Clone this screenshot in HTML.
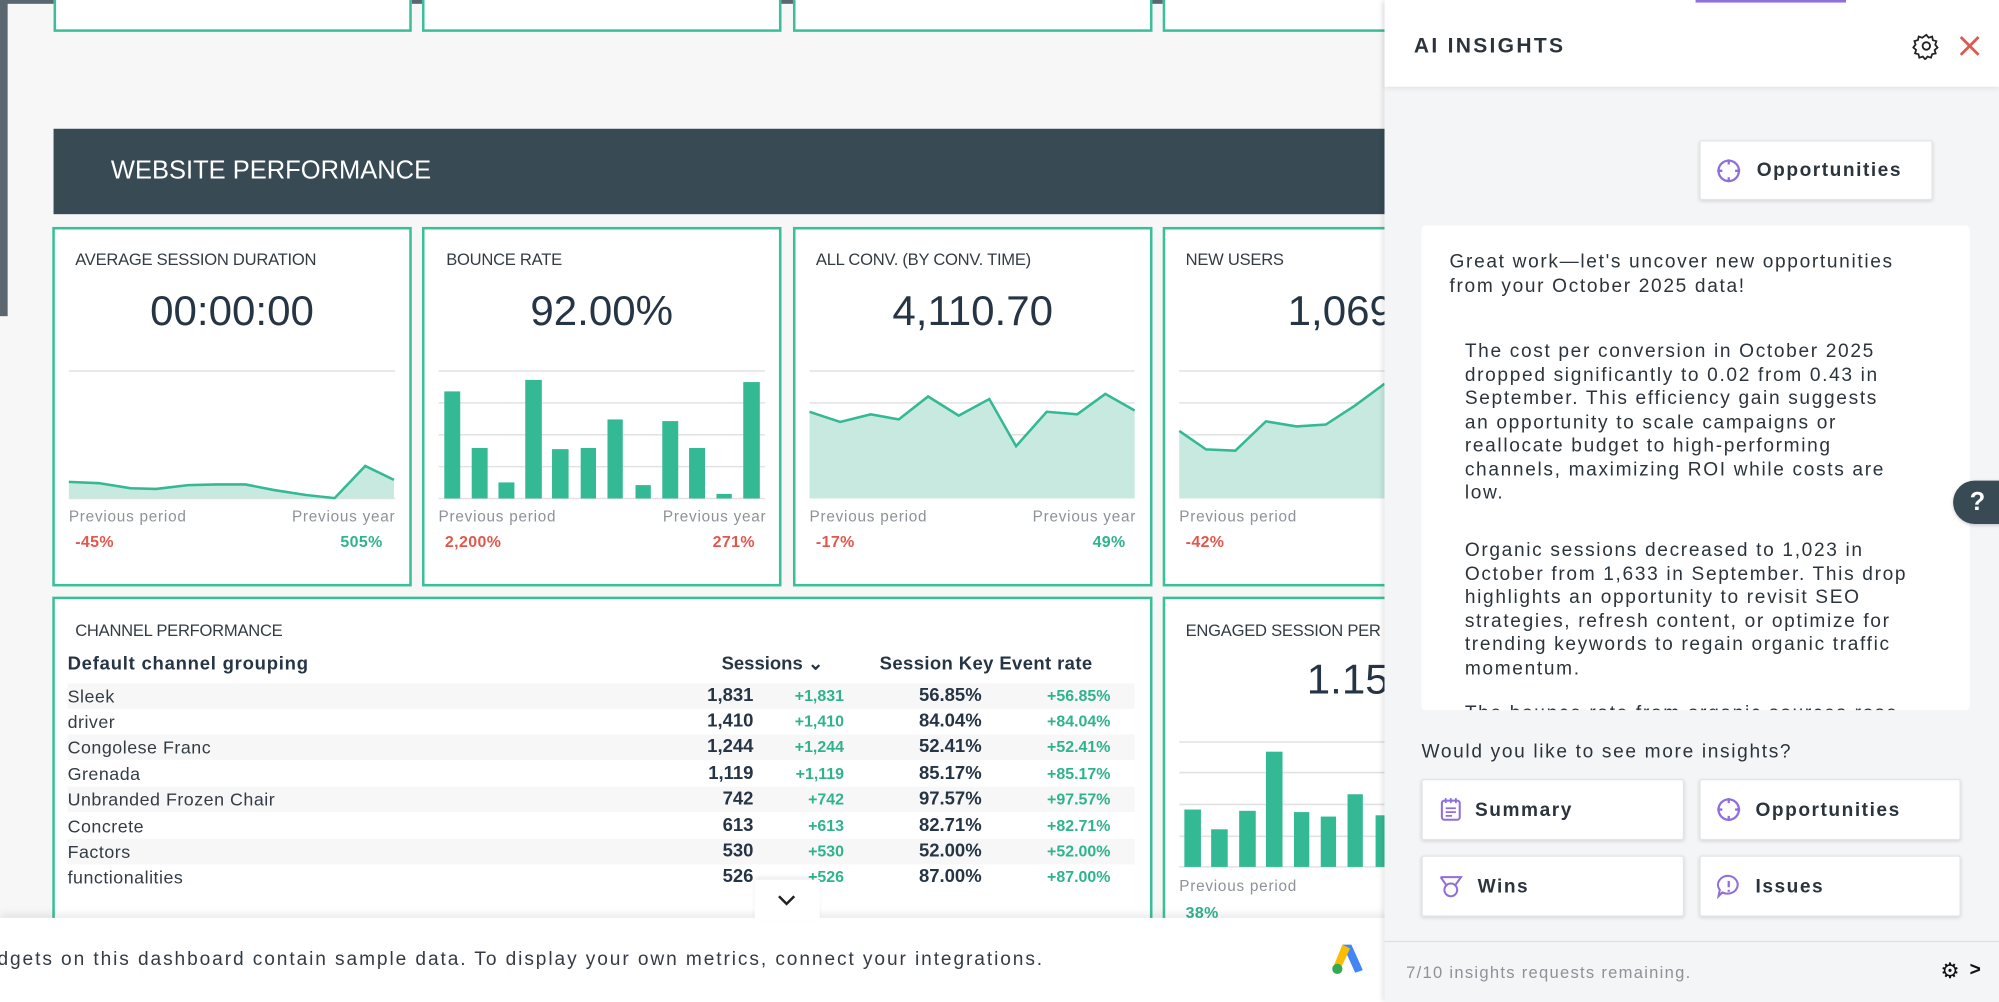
<!DOCTYPE html>
<html><head><meta charset="utf-8">
<style>
*{margin:0;padding:0;box-sizing:border-box}
html,body{width:1999px;height:1002px;overflow:hidden;background:#f7f7f7}
#w{position:absolute;left:0;top:0;width:1568px;height:786px;transform:scale(1.27487);transform-origin:0 0;font-family:"Liberation Sans",sans-serif;background:#f7f7f7;overflow:hidden}
.a{position:absolute;white-space:nowrap}
.card{position:absolute;background:#fff;border:2px solid #3bbf9a}
.t{font-size:13px;color:#333c45;letter-spacing:-0.2px}
.v{font-size:33px;color:#263545;text-align:center}
.pp{font-size:12px;color:#8d9299;letter-spacing:0.6px}
.r{font-size:12.5px;font-weight:bold;color:#e2574c;letter-spacing:0.3px}
.g{font-size:12.5px;font-weight:bold;color:#2fb38f;letter-spacing:0.3px}
.row{position:absolute;left:53px;width:837px;height:20px;font-size:14px;color:#333c45;line-height:20px;letter-spacing:0.4px}
.row span{position:absolute;top:0}
.n{font-weight:bold;color:#263545;font-size:14.5px;letter-spacing:0}
.d{color:#2fb38f;font-size:12.5px;font-weight:bold;letter-spacing:0}
.ai{font-size:15px;color:#2b343c;letter-spacing:1.3px;line-height:18.5px}
.btn{position:absolute;background:#fff;border:1px solid #e3e5e8;box-shadow:0 1px 3px rgba(0,0,0,.12);border-radius:2px}
.bt{position:absolute;font-size:15px;font-weight:bold;color:#2b343c;letter-spacing:1.2px}
</style></head><body><div id="w">
<div class="a" style="left:0;top:0;width:1568px;height:3px;background:#5b6770"></div>
<div class="a" style="left:0;top:0;width:6px;height:248px;background:#5b6770"></div>
<div class="card" style="left:42px;top:-10px;width:281px;height:35px"></div>
<div class="card" style="left:331px;top:-10px;width:282px;height:35px"></div>
<div class="card" style="left:622px;top:-10px;width:282px;height:35px"></div>
<div class="card" style="left:912px;top:-10px;width:200px;height:35px"></div>
<div class="a" style="left:42px;top:101px;width:1060px;height:67px;background:#384a54"></div>
<div class="a" style="left:87px;top:122px;font-size:20px;color:#fff;line-height:24px">WEBSITE PERFORMANCE</div>
<div class="card" style="left:41px;top:178px;width:282px;height:282px"></div>
<div class="card" style="left:331px;top:178px;width:282px;height:282px"></div>
<div class="card" style="left:622px;top:178px;width:282px;height:282px"></div>
<div class="card" style="left:912px;top:178px;width:200px;height:282px"></div>
<div class="a t" style="left:59px;top:196px">AVERAGE SESSION DURATION</div>
<div class="a t" style="left:350px;top:196px">BOUNCE RATE</div>
<div class="a t" style="left:640px;top:196px">ALL CONV. (BY CONV. TIME)</div>
<div class="a t" style="left:930px;top:196px">NEW USERS</div>
<div class="a v" style="left:41px;width:282px;top:225px">00:00:00</div>
<div class="a v" style="left:331px;width:282px;top:225px">92.00%</div>
<div class="a v" style="left:622px;width:282px;top:225px">4,110.70</div>
<div class="a v" style="left:1010px;top:225px">1,069</div>
<div class="a pp" style="left:54px;top:398px">Previous period</div>
<div class="a pp" style="left:229px;top:398px">Previous year</div>
<div class="a pp" style="left:344px;top:398px">Previous period</div>
<div class="a pp" style="left:520px;top:398px">Previous year</div>
<div class="a pp" style="left:635px;top:398px">Previous period</div>
<div class="a pp" style="left:810px;top:398px">Previous year</div>
<div class="a pp" style="left:925px;top:398px">Previous period</div>
<div class="a r" style="left:59px;top:418px">-45%</div>
<div class="a g" style="left:267px;top:418px">505%</div>
<div class="a r" style="left:349px;top:418px">2,200%</div>
<div class="a r" style="left:559px;top:418px">271%</div>
<div class="a r" style="left:640px;top:418px">-17%</div>
<div class="a g" style="left:857px;top:418px">49%</div>
<div class="a r" style="left:930px;top:418px">-42%</div>
<div class="card" style="left:41px;top:468px;width:863px;height:300px"></div>
<div class="card" style="left:912px;top:468px;width:200px;height:300px"></div>
<div class="a t" style="left:59px;top:487px">CHANNEL PERFORMANCE</div>
<div class="a t" style="left:930px;top:487px">ENGAGED SESSION PER USER</div>
<div class="a v" style="left:1025px;top:514px">1.15</div>
<div class="a pp" style="left:925px;top:688px">Previous period</div>
<div class="a g" style="left:930px;top:709px">38%</div>
<div class="a" style="left:53px;top:513px;font-size:14.5px;font-weight:bold;color:#263545;letter-spacing:0.6px">Default channel grouping</div>
<div class="a" style="left:566px;top:513px;font-size:14.5px;font-weight:bold;color:#263545">Sessions &#8964;</div>
<div class="a" style="left:690px;top:513px;font-size:14.5px;font-weight:bold;color:#263545;letter-spacing:0.3px">Session Key Event rate</div>
<div class="row" style="top:536px;background:#f7f7f7"><span style="left:0">Sleek</span><span class="n" style="right:299px">1,831</span><span class="d" style="right:228px">+1,831</span><span class="n" style="right:120px">56.85%</span><span class="d" style="right:19px">+56.85%</span></div>
<div class="row" style="top:556px"><span style="left:0">driver</span><span class="n" style="right:299px">1,410</span><span class="d" style="right:228px">+1,410</span><span class="n" style="right:120px">84.04%</span><span class="d" style="right:19px">+84.04%</span></div>
<div class="row" style="top:576px;background:#f7f7f7"><span style="left:0">Congolese Franc</span><span class="n" style="right:299px">1,244</span><span class="d" style="right:228px">+1,244</span><span class="n" style="right:120px">52.41%</span><span class="d" style="right:19px">+52.41%</span></div>
<div class="row" style="top:597px"><span style="left:0">Grenada</span><span class="n" style="right:299px">1,119</span><span class="d" style="right:228px">+1,119</span><span class="n" style="right:120px">85.17%</span><span class="d" style="right:19px">+85.17%</span></div>
<div class="row" style="top:617px;background:#f7f7f7"><span style="left:0">Unbranded Frozen Chair</span><span class="n" style="right:299px">742</span><span class="d" style="right:228px">+742</span><span class="n" style="right:120px">97.57%</span><span class="d" style="right:19px">+97.57%</span></div>
<div class="row" style="top:638px"><span style="left:0">Concrete</span><span class="n" style="right:299px">613</span><span class="d" style="right:228px">+613</span><span class="n" style="right:120px">82.71%</span><span class="d" style="right:19px">+82.71%</span></div>
<div class="row" style="top:658px;background:#f7f7f7"><span style="left:0">Factors</span><span class="n" style="right:299px">530</span><span class="d" style="right:228px">+530</span><span class="n" style="right:120px">52.00%</span><span class="d" style="right:19px">+52.00%</span></div>
<div class="row" style="top:678px"><span style="left:0">functionalities</span><span class="n" style="right:299px">526</span><span class="d" style="right:228px">+526</span><span class="n" style="right:120px">87.00%</span><span class="d" style="right:19px">+87.00%</span></div>
<svg class="a" style="left:0;top:0" width="1568" height="786" viewBox="0 0 1568 786">
<g stroke="#e2e2e2" stroke-width="1.2">
<line x1="54" y1="291" x2="310" y2="291"/><line x1="54" y1="391" x2="310" y2="391"/>
<line x1="344" y1="291" x2="600" y2="291"/><line x1="344" y1="316" x2="600" y2="316"/><line x1="344" y1="341" x2="600" y2="341"/><line x1="344" y1="366" x2="600" y2="366"/><line x1="344" y1="391" x2="600" y2="391"/>
<line x1="635" y1="291" x2="890" y2="291"/><line x1="635" y1="316" x2="890" y2="316"/><line x1="635" y1="341" x2="890" y2="341"/><line x1="635" y1="366" x2="890" y2="366"/>
<line x1="925" y1="291" x2="1086" y2="291"/><line x1="925" y1="316" x2="1086" y2="316"/><line x1="925" y1="341" x2="1086" y2="341"/><line x1="925" y1="366" x2="1086" y2="366"/>
<line x1="925" y1="582" x2="1086" y2="582"/><line x1="925" y1="606" x2="1086" y2="606"/><line x1="925" y1="631" x2="1086" y2="631"/><line x1="925" y1="656" x2="1086" y2="656"/><line x1="925" y1="680" x2="1086" y2="680"/>
</g>
<path d="M54,378 L77.5,379 L102.5,383 L122.5,383.5 L147.5,380.5 L170,380 L192.5,380 L215,384.4 L240,388.3 L262.5,390.7 L286.5,365.5 L309,376.4 L309,391 L54,391Z" fill="#c8e9df"/>
<polyline points="54,378 77.5,379 102.5,383 122.5,383.5 147.5,380.5 170,380 192.5,380 215,384.4 240,388.3 262.5,390.7 286.5,365.5 309,376.4" fill="none" stroke="#34b995" stroke-width="2"/>
<g fill="#34b995">
<rect x="348.5" y="307" width="12.5" height="84"/><rect x="370" y="351.4" width="12.5" height="39.6"/><rect x="391" y="378.4" width="12.5" height="12.6"/><rect x="412" y="298" width="13" height="93"/><rect x="433" y="352.3" width="13" height="38.7"/><rect x="455.5" y="351.4" width="12" height="39.6"/><rect x="476.5" y="329" width="12" height="62"/><rect x="498.5" y="380.5" width="12" height="10.5"/><rect x="519.5" y="330.3" width="12.5" height="60.7"/><rect x="540.5" y="351.4" width="12.5" height="39.6"/><rect x="562" y="387.4" width="12" height="3.6"/><rect x="583" y="299.7" width="13" height="91.3"/>
<rect x="929" y="635" width="13" height="45"/><rect x="950" y="650.5" width="13" height="29.5"/><rect x="972" y="636" width="13" height="44"/><rect x="993" y="589.6" width="13" height="90.4"/><rect x="1015" y="637" width="12" height="43"/><rect x="1036" y="640.5" width="12" height="39.5"/><rect x="1057" y="623" width="12" height="57"/><rect x="1079" y="639.5" width="12" height="40.5"/>
</g>
<path d="M635,323 L659,331 L683,325 L705,329 L728,311 L752,326 L776,313 L797,350 L821,323 L845,325 L867,309 L890,322 L890,391 L635,391Z" fill="#c8e9df"/>
<polyline points="635,323 659,331 683,325 705,329 728,311 752,326 776,313 797,350 821,323 845,325 867,309 890,322" fill="none" stroke="#34b995" stroke-width="2"/>
<path d="M925,338 L946,352.5 L969,353.5 L993,330.5 L1017,334.5 L1040,333 L1063,318 L1086,301 L1086,391 L925,391Z" fill="#c8e9df"/>
<polyline points="925,338 946,352.5 969,353.5 993,330.5 1017,334.5 1040,333 1063,318 1086,301" fill="none" stroke="#34b995" stroke-width="2"/>
</svg>
<div class="a" style="left:0;top:720px;width:1090px;height:66px;background:#fff;box-shadow:0 -3px 6px rgba(0,0,0,.08)"></div>
<div class="a" style="left:-2px;top:744px;font-size:15px;color:#333c45;letter-spacing:1.5px">dgets on this dashboard contain sample data. To display your own metrics, connect your integrations.</div>
<svg class="a" style="left:1044px;top:739px" width="28" height="26" viewBox="0 0 28 26"><path d="M9,2 L16,2 L25,22 L19,24Z" fill="#4285f4"/><path d="M9,2 L15,5 L7,22 L2,19Z" fill="#fbbc04"/><circle cx="5" cy="21" r="4" fill="#34a853"/></svg>
<div class="a" style="left:592px;top:690px;width:51px;height:32px;background:#fff;box-shadow:0 -2px 3px rgba(0,0,0,.08)"></div>
<svg class="a" style="left:609px;top:700px" width="16" height="12" viewBox="0 0 16 12"><polyline points="2,3 8,9 14,3" fill="none" stroke="#222" stroke-width="2"/></svg>
<div class="a" style="left:1086px;top:0;width:482px;height:786px;background:#f4f5f6;box-shadow:-2px 0 4px rgba(0,0,0,.1)"></div>
<div class="a" style="left:1086px;top:0;width:482px;height:68px;background:#fff;box-shadow:0 2px 4px rgba(0,0,0,.07)"></div>
<div class="a" style="left:1330px;top:0;width:118px;height:2px;background:#8f6ee0"></div>
<div class="a" style="left:1109px;top:27px;font-size:16.5px;font-weight:bold;color:#2b343c;letter-spacing:1.8px">AI INSIGHTS</div>
<svg class="a" style="left:1500px;top:25px" width="22" height="22" viewBox="0 0 24 24"><circle cx="12" cy="12" r="3.2" fill="none" stroke="#222" stroke-width="1.6"/><path d="M12,2.5l2,2.5 3-1 .6 3.1 3 .9-1 3 2 2.5-2.5 2 .9 3-3 .6-1 3-3-1-2 2.5-2-2.5-3 1-.7-3-3-.7 1-3-2.5-2 2-2.5-1-3 3-.9.7-3 3 1z" fill="none" stroke="#222" stroke-width="1.5"/></svg>
<svg class="a" style="left:1536px;top:27px" width="18" height="18" viewBox="0 0 18 18"><path d="M2,2 L16,16 M16,2 L2,16" stroke="#e2574c" stroke-width="2.2"/></svg>
<div class="btn" style="left:1333px;top:110px;width:183px;height:47px"></div>
<svg class="a" style="left:1346px;top:124px" width="20" height="20" viewBox="0 0 20 20"><circle cx="10" cy="10" r="8" fill="none" stroke="#8f6ee0" stroke-width="1.8"/><path d="M10,1v4M10,15v4M1,10h4M15,10h4" stroke="#8f6ee0" stroke-width="1.8"/></svg>
<div class="bt" style="left:1378px;top:125px">Opportunities</div>
<div class="a" style="left:1115px;top:177px;width:430px;height:380px;background:#fff;overflow:hidden;border-radius:3px">
<div class="a ai" style="left:22px;top:20px">Great work—let's uncover new opportunities<br>from your October 2025 data!</div>
<div class="a ai" style="left:34px;top:90px">The cost per conversion in October 2025<br>dropped significantly to 0.02 from 0.43 in<br>September. This efficiency gain suggests<br>an opportunity to scale campaigns or<br>reallocate budget to high-performing<br>channels, maximizing ROI while costs are<br>low.</div>
<div class="a ai" style="left:34px;top:246px">Organic sessions decreased to 1,023 in<br>October from 1,633 in September. This drop<br>highlights an opportunity to revisit SEO<br>strategies, refresh content, or optimize for<br>trending keywords to regain organic traffic<br>momentum.</div>
<div class="a ai" style="left:34px;top:374px">The bounce rate from organic sources rose</div>
</div>
<div class="a ai" style="left:1115px;top:581px;font-size:15px">Would you like to see more insights?</div>
<div class="btn" style="left:1115px;top:611px;width:206px;height:48px"></div>
<div class="btn" style="left:1333px;top:611px;width:205px;height:48px"></div>
<div class="btn" style="left:1115px;top:671px;width:206px;height:48px"></div>
<div class="btn" style="left:1333px;top:671px;width:205px;height:48px"></div>
<svg class="a" style="left:1128px;top:625px" width="20" height="20" viewBox="0 0 20 20"><rect x="3" y="3" width="14" height="15" rx="2" fill="none" stroke="#8f6ee0" stroke-width="1.6"/><path d="M6,1v4M10,1v4M14,1v4M6,9h8M6,12h8M6,15h5" stroke="#8f6ee0" stroke-width="1.4"/></svg>
<div class="bt" style="left:1157px;top:627px">Summary</div>
<svg class="a" style="left:1346px;top:625px" width="20" height="20" viewBox="0 0 20 20"><circle cx="10" cy="10" r="8" fill="none" stroke="#8f6ee0" stroke-width="1.8"/><path d="M10,1v4M10,15v4M1,10h4M15,10h4" stroke="#8f6ee0" stroke-width="1.8"/></svg>
<div class="bt" style="left:1377px;top:627px">Opportunities</div>
<svg class="a" style="left:1128px;top:685px" width="20" height="20" viewBox="0 0 20 20"><path d="M2,3h16l-5,7M2,3l5,7" fill="none" stroke="#8f6ee0" stroke-width="1.6"/><circle cx="10" cy="13" r="5" fill="none" stroke="#8f6ee0" stroke-width="1.6"/></svg>
<div class="bt" style="left:1159px;top:687px">Wins</div>
<svg class="a" style="left:1346px;top:685px" width="20" height="20" viewBox="0 0 20 20"><path d="M10,2a8,7 0 1,1 -5,13l-3,3 1-5a8,7 0 0,1 7-11z" fill="none" stroke="#8f6ee0" stroke-width="1.6"/><path d="M10,6v5M10,13v1.5" stroke="#8f6ee0" stroke-width="1.8"/></svg>
<div class="bt" style="left:1377px;top:687px">Issues</div>
<div class="a" style="left:1086px;top:738px;width:482px;height:1px;background:#dde0e3"></div>
<div class="a" style="left:1103px;top:755px;font-size:13px;color:#8d9299;letter-spacing:1px">7/10 insights requests remaining.</div>
<div class="a" style="left:1522px;top:752px;font-size:17px;color:#111">&#9881;</div>
<div class="a" style="left:1545px;top:752px;font-size:15px;color:#111;font-weight:bold">&gt;</div>
<div class="a" style="left:1532px;top:377px;width:45px;height:34px;background:#384a54;border-radius:17px 0 0 17px;box-shadow:0 1px 3px rgba(0,0,0,.2)"></div>
<div class="a" style="left:1545px;top:383px;font-size:20px;font-weight:bold;color:#fff">?</div>
</div></body></html>
